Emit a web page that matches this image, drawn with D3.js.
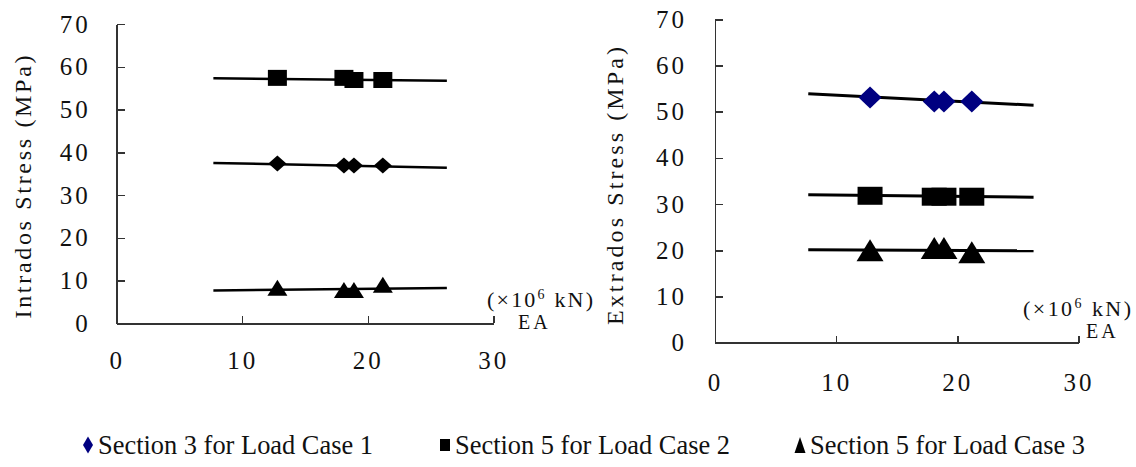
<!DOCTYPE html>
<meta charset="utf-8">
<style>
body { margin: 0; background: #fff; }
svg { display: block; }
.axis path, .axis line { stroke: #333; stroke-width: 1.5; shape-rendering: crispEdges; }
.axis text { font: 25px "Liberation Serif", serif; fill: #111; letter-spacing: 3px; }
.title { font-family: "Liberation Serif", serif; fill: #111; }
</style>
<body>
<script src="https://d3js.org/d3.v7.min.js"></script>
<script>

// EA values (x10^6 kN), common to every series
const eaValues = [12.8, 18.1, 18.9, 21.2];
const xTicks = [0, 10, 20, 30];
const yTicks = [0, 10, 20, 30, 40, 50, 60, 70];
const seriesNames = ["Section 3 for Load Case 1", "Section 5 for Load Case 2", "Section 5 for Load Case 3"];

// intrados stress (MPa)
const intradosS3L1 = [37.4, 36.9, 36.9, 36.9];
const intradosS5L2 = [57.4, 57.4, 56.9, 56.9];
const intradosS5L3 = [8.3, 7.8, 7.8, 9.0];

// extrados stress (MPa)
const extradosS3L1 = [53.1, 52.2, 52.2, 52.2];
const extradosS5L2 = [31.8, 31.6, 31.6, 31.6];
const extradosS5L3 = [20.0, 20.5, 20.5, 19.6];

// trend lines, value at start and end of trendEA
const trendEA = [7.7, 26.3];
const intradosTrend = [[37.5, 36.4], [57.3, 56.7], [7.7, 8.25]];
const extradosTrend = [[53.9, 51.4], [32.0, 31.5], [20.1, 19.9]];

const shapes = ["diamond", "square", "triangle"];

var svg = d3.select("body").append("svg")
	.attr("width", 1136)
	.attr("height", 467);

// stretched markers: w x h
function markerPath(shape, w, h) {
	var a = w / 2, b = h / 2;
	if (shape == "diamond") return "M0," + (-b) + "L" + a + ",0L0," + b + "L" + (-a) + ",0Z";
	if (shape == "square") return "M" + (-a) + "," + (-b) + "H" + a + "V" + b + "H" + (-a) + "Z";
	return "M0," + (-b) + "L" + a + "," + b + "L" + (-a) + "," + b + "Z";
}

function drawChart(cfg) {
	var x = d3.scaleLinear().domain([0, 30]).range(cfg.xr);
	var y = d3.scaleLinear().domain([0, 70]).range(cfg.yr);
	var g = svg.append("g");

	// x axis, ticks pointing up, labels far below
	g.append("g")
		.attr("class", "axis")
		.attr("transform", "translate(0," + cfg.yr[0] + ")")
		.call(d3.axisBottom(x).tickValues(xTicks).tickSizeInner(-7).tickSizeOuter(0).tickPadding(cfg.xPad));

	// y axis, ticks pointing right
	g.append("g")
		.attr("class", "axis")
		.attr("transform", "translate(" + cfg.xr[0] + ",0)")
		.call(d3.axisLeft(y).tickValues(yTicks).tickSizeInner(-8).tickSizeOuter(0).tickPadding(cfg.yPad));

	// trend lines
	cfg.trend.forEach(function(t) {
		g.append("line")
			.attr("x1", x(trendEA[0])).attr("y1", y(t[0]))
			.attr("x2", x(trendEA[1])).attr("y2", y(t[1]))
			.style("stroke", "#000")
			.style("stroke-width", cfg.lw);
	});

	// markers
	cfg.series.forEach(function(vals, i) {
		g.selectAll(null)
			.data(vals)
			.enter().append("path")
			.attr("transform", function(d, j) { return "translate(" + x(eaValues[j]) + "," + y(d) + ")"; })
			.attr("d", markerPath(shapes[i], cfg.size[i][0], cfg.size[i][1]))
			.style("fill", cfg.colors[i]);
	});

	// y title
	g.append("text")
		.attr("class", "title")
		.attr("transform", "translate(" + cfg.titleX + "," + cfg.titleY + ") rotate(-90)")
		.attr("text-anchor", "middle")
		.attr("dominant-baseline", "central")
		.attr("textLength", cfg.titleLen)
		.attr("lengthAdjust", "spacing")
		.style("font-size", "24px")
		.text(cfg.title);

	// unit label
	var u = g.append("text")
		.attr("class", "title")
		.attr("x", cfg.unitX).attr("y", cfg.unitY)
		.attr("textLength", cfg.unitLen)
		.attr("lengthAdjust", "spacing")
		.style("font-size", "22px");
	u.append("tspan").text("(×10");
	u.append("tspan").attr("dy", -8).style("font-size", "14px").text("6");
	u.append("tspan").attr("dy", 8).text(" kN)");

	g.append("text")
		.attr("class", "title")
		.attr("x", cfg.eaX).attr("y", cfg.unitY + 22)
		.style("font-size", "20px")
		.style("letter-spacing", "3px")
		.text("EA");
}

drawChart({
	xr: [116.7, 493.3], yr: [323.3, 24],
	xPad: 28, yPad: 26,
	series: [intradosS3L1, intradosS5L2, intradosS5L3],
	trend: intradosTrend,
	colors: ["#000", "#000", "#000"],
	size: [[18, 16], [19, 16], [20, 16]],
	lw: 2.5,
	title: "Intrados Stress (MPa)", titleX: 23, titleY: 187, titleLen: 263,
	unitX: 487, unitY: 307, unitLen: 106, eaX: 518
});

drawChart({
	xr: [715, 1078.4], yr: [342.7, 19.3],
	xPad: 31, yPad: 28,
	series: [extradosS3L1, extradosS5L2, extradosS5L3],
	trend: extradosTrend,
	colors: ["#000080", "#000", "#000"],
	size: [[23, 22], [25, 18], [27, 22]],
	lw: 3,
	title: "Extrados Stress (MPa)", titleX: 615, titleY: 186, titleLen: 278,
	unitX: 1023, unitY: 316, unitLen: 108, eaX: 1086
});

// legend
var legendX = [88, 445, 800];
var legendColors = ["#000080", "#000", "#000"];
var legendSize = [[10, 17], [10, 12], [11, 16]];
var leg = svg.append("g").attr("transform", "translate(0,445)");
seriesNames.forEach(function(name, i) {
	leg.append("path")
		.attr("transform", "translate(" + legendX[i] + ",0)")
		.attr("d", markerPath(shapes[i], legendSize[i][0], legendSize[i][1]))
		.style("fill", legendColors[i]);
	leg.append("text")
		.attr("class", "title")
		.attr("x", legendX[i] + 10)
		.attr("y", 9)
		.attr("textLength", 275)
		.attr("lengthAdjust", "spacingAndGlyphs")
		.style("font-size", "28px")
		.text(name);
});

</script>
</body>
